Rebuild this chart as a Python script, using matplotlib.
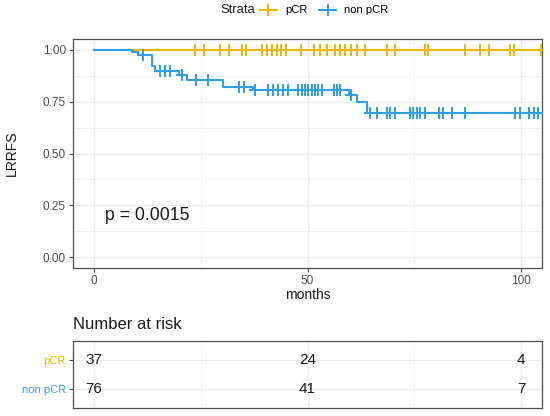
import matplotlib
matplotlib.use("Agg")
import matplotlib.pyplot as plt
import numpy as np
from matplotlib.lines import Line2D
from matplotlib.ticker import MultipleLocator

plt.rcParams["font.family"] = ["Liberation Sans", "DejaVu Sans"]

# --- data ---
groups = ["pCR", "non pCR"]
colors = ["#E7B800", "#2E9FDF"]
follow_up_end = [110, 110]

pcr_event_times = []
pcr_event_surv = []
pcr_censor_times = [23.7, 25.8, 29.6, 31.7, 34.6, 35.5, 39.4, 40.6, 41.7, 42.8, 43.8,
                    45.0, 48.5, 51.6, 52.9, 54.5, 56.5, 57.6, 58.9, 60.2, 61.7, 63.5,
                    68.6, 70.5, 77.6, 78.3, 86.9, 90.5, 92.4, 97.5, 98.4, 104.8]

nonpcr_event_times = [8.8, 10.3, 13.5, 14.2, 19.9, 21.7, 30.3, 37.3, 59.8, 61.7, 63.9]
nonpcr_event_surv = [0.987, 0.974, 0.920, 0.897, 0.878, 0.852, 0.822, 0.805, 0.783, 0.748, 0.695]
nonpcr_censor_times = [11.5, 15.4, 16.6, 17.8, 20.7, 23.9, 26.7, 34.0, 35.1, 37.7, 40.8,
                       42.0, 43.2, 44.3, 45.5, 47.8, 48.6, 49.4, 50.2, 51.0, 51.8, 52.5,
                       53.3, 56.1, 56.8, 57.6, 60.2, 64.7, 66.2, 68.6, 69.3, 70.5, 74.0,
                       74.8, 75.6, 76.4, 77.6, 80.7, 81.8, 83.8, 86.9, 98.7, 99.8, 101.8,
                       103.0, 104.1]

risk_times = [0, 50, 100]
risk_pcr = [37, 24, 4]
risk_nonpcr = [76, 41, 7]
p_value_text = "p = 0.0015"


def step_curve(event_times, event_surv, end_time):
    xs = np.concatenate([[0.0], event_times, [end_time]])
    ys = np.concatenate([[1.0], event_surv, [event_surv[-1] if len(event_surv) else 1.0]])
    return xs, ys


def surv_at(times, event_times, event_surv):
    levels = np.concatenate([[1.0], event_surv])
    idx = np.searchsorted(np.asarray(event_times), np.asarray(times), side="right")
    return levels[idx]


curves = [
    (pcr_event_times, pcr_event_surv, pcr_censor_times),
    (nonpcr_event_times, nonpcr_event_surv, nonpcr_censor_times),
]

fig = plt.figure(figsize=(5.5, 4.16), dpi=100)
ax = fig.add_axes([0.1322, 0.3565, 0.8538, 0.549])
tab = fig.add_axes([0.1322, 0.0185, 0.8538, 0.1618])

grid_color = "#EBEBEB"
border_color = "#4D4D4D"

for a in (ax, tab):
    a.set_axisbelow(True)
    a.grid(which="major", color=grid_color, lw=0.9)
    a.grid(which="minor", color=grid_color, lw=0.5)
    for sp in a.spines.values():
        sp.set_color(border_color)
        sp.set_linewidth(0.9)

for (ev_t, ev_s, cens), color, end in zip(curves, colors, follow_up_end):
    xs, ys = step_curve(ev_t, ev_s, end)
    ax.step(xs, ys, where="post", color=color, lw=1.5, zorder=3)
    ax.plot(cens, surv_at(cens, ev_t, ev_s), ls="none", marker="+", ms=8,
            mew=1.4, color=color, zorder=4)

ax.set_xlim(-5, 105)
ax.set_ylim(-0.05, 1.05)
ax.xaxis.set_major_locator(MultipleLocator(50))
ax.xaxis.set_minor_locator(MultipleLocator(25))
ax.yaxis.set_major_locator(MultipleLocator(0.25))
ax.yaxis.set_minor_locator(MultipleLocator(0.125))
ax.yaxis.set_major_formatter(matplotlib.ticker.FormatStrFormatter("%.2f"))
ax.tick_params(which="major", length=3, width=0.8, color=border_color,
               labelsize=8.5, labelcolor="#4D4D4D", pad=2)
ax.tick_params(which="minor", length=0)
ax.set_xlabel("months", fontsize=10, color="#1A1A1A", labelpad=1)
ax.set_ylabel("LRRFS", fontsize=10, color="#1A1A1A", labelpad=17)
ax.text(2.5, 0.2, p_value_text, fontsize=12.7, ha="left", va="center", color="#1A1A1A")

# legend at top
handles = [Line2D([], [], color=c, lw=1.5, marker="+", ms=8, mew=1.4) for c in colors]
fig.text(0.433, 0.975, "Strata", fontsize=9.4, ha="center", va="center", color="#1A1A1A")
fig.legend(handles, groups, loc="center left", bbox_to_anchor=(0.472, 0.975), ncol=2,
           frameon=False, fontsize=8, handlelength=1.6, handletextpad=0.7,
           columnspacing=1.0, borderpad=0, borderaxespad=0)

# risk table
row_y = [2, 1]
for counts, y in zip([risk_pcr, risk_nonpcr], row_y):
    for t, n in zip(risk_times, counts):
        tab.text(t, y, str(n), ha="center", va="center", fontsize=11, color="#1A1A1A")
tab.set_xlim(-5, 105)
tab.set_ylim(0.35, 2.65)
tab.xaxis.set_major_locator(MultipleLocator(50))
tab.xaxis.set_minor_locator(MultipleLocator(25))
tab.set_yticks(row_y)
tab.set_yticklabels(groups)
for lbl, c in zip(tab.get_yticklabels(), colors):
    lbl.set_color(c)
tab.tick_params(axis="y", length=3, width=0.8, color=border_color, labelsize=8, pad=2)
tab.tick_params(axis="x", which="both", length=0, labelbottom=False)
fig.text(0.1322, 0.2188, "Number at risk", fontsize=12, ha="left", va="center", color="#1A1A1A")

fig.savefig("out.png", dpi=100)
